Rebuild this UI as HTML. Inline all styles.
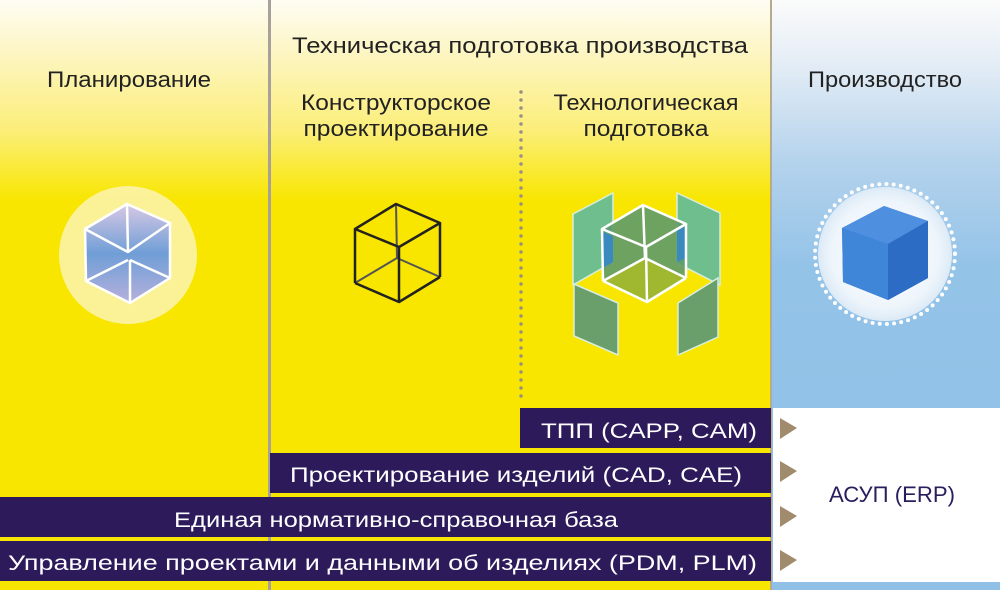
<!DOCTYPE html>
<html><head><meta charset="utf-8"><style>
html,body{margin:0;padding:0;background:#fff}
svg{display:block}
text{font-family:"Liberation Sans",sans-serif}
</style></head><body>
<svg width="1000" height="590" viewBox="0 0 1000 590" xmlns="http://www.w3.org/2000/svg">
<defs>
<linearGradient id="yel" x1="0" y1="0" x2="0" y2="1">
<stop offset="0" stop-color="#fefdf4"/>
<stop offset="0.08" stop-color="#fdf6c8"/>
<stop offset="0.22" stop-color="#fbee7a"/>
<stop offset="0.34" stop-color="#f8e600"/>
<stop offset="1" stop-color="#f8e600"/>
</linearGradient>
<linearGradient id="blu" x1="0" y1="0" x2="0" y2="1">
<stop offset="0" stop-color="#fbfbfb"/>
<stop offset="0.1" stop-color="#e6eef6"/>
<stop offset="0.28" stop-color="#b3d2ec"/>
<stop offset="0.45" stop-color="#94c3e8"/>
<stop offset="1" stop-color="#90c0e6"/>
</linearGradient>
<radialGradient id="halo" cx="0.5" cy="0.5" r="0.5">
<stop offset="0" stop-color="#ffffff"/>
<stop offset="0.8" stop-color="#eef5fb"/>
<stop offset="1" stop-color="#dceaf6"/>
</radialGradient>
<linearGradient id="cubeL" x1="0" y1="0" x2="0" y2="1">
<stop offset="0" stop-color="#d8c8e4"/>
<stop offset="0.5" stop-color="#6f9ed6"/>
<stop offset="1" stop-color="#b6b0dc"/>
</linearGradient>
<linearGradient id="cubeB" x1="0" y1="0" x2="1" y2="1">
<stop offset="0" stop-color="#5b9ae0"/>
<stop offset="1" stop-color="#1f5fb6"/>
</linearGradient>
</defs>
<rect x="0" y="0" width="772" height="590" fill="url(#yel)"/>
<rect x="772" y="0" width="228" height="590" fill="url(#blu)"/>
<rect x="268" y="0" width="3" height="590" fill="#a8a09a"/>
<rect x="770" y="0" width="2" height="590" fill="#b7ab8e"/>

<!-- headers -->
<text x="520" y="53" font-size="22" text-anchor="middle" fill="#222" textLength="456" lengthAdjust="spacingAndGlyphs">Техническая  подготовка  производства</text>
<text x="129" y="87" font-size="22" text-anchor="middle" fill="#222" textLength="164" lengthAdjust="spacingAndGlyphs">Планирование</text>
<text x="885" y="87" font-size="22" text-anchor="middle" fill="#222" textLength="154" lengthAdjust="spacingAndGlyphs">Производство</text>
<text x="396" y="110" font-size="22" text-anchor="middle" fill="#222" textLength="190" lengthAdjust="spacingAndGlyphs">Конструкторское</text>
<text x="396" y="136" font-size="22" text-anchor="middle" fill="#222" textLength="185" lengthAdjust="spacingAndGlyphs">проектирование</text>
<text x="646" y="110" font-size="22" text-anchor="middle" fill="#222" textLength="185" lengthAdjust="spacingAndGlyphs">Технологическая</text>
<text x="646" y="136" font-size="22" text-anchor="middle" fill="#222" textLength="125" lengthAdjust="spacingAndGlyphs">подготовка</text>
<line x1="521" y1="92" x2="521" y2="398" stroke="#9a8f86" stroke-width="3.5" stroke-linecap="round" stroke-dasharray="0 8"/>

<!-- left cube -->
<circle cx="128" cy="255" r="69" fill="#fbf3a8" opacity="0.9"/>
<g stroke="#fff" stroke-width="2.5" stroke-linejoin="round">
<polygon points="127,204 170,223 170,278 130,303 86,281 85,229" fill="url(#cubeL)"/>
<polyline points="85,229 128,252 170,223" fill="none"/>
<line x1="127" y1="204" x2="128" y2="252"/>
<line x1="128" y1="260" x2="86" y2="281"/>
<line x1="130" y1="260" x2="170" y2="278"/>
<line x1="130" y1="260" x2="130" y2="303"/>
</g>

<!-- wire cube -->
<g fill="none" stroke-linejoin="round">
<g stroke="#555" stroke-width="2">
<line x1="396" y1="204" x2="397" y2="258"/>
<line x1="397" y1="258" x2="355" y2="283"/>
<line x1="397" y1="258" x2="440" y2="277"/>
</g>
<g stroke="#222" stroke-width="2.5">
<polygon points="355,229 396,204 440,223 399,247"/>
<line x1="355" y1="229" x2="355" y2="283"/>
<line x1="399" y1="247" x2="399" y2="302"/>
<line x1="440" y1="223" x2="440" y2="277"/>
<polyline points="355,283 399,302 440,277"/>
</g>
</g>

<!-- tech cube -->
<g stroke="#d8eee0" stroke-width="1.5">
<polygon points="573,214 613,193 613,262 573,285" fill="#6fbf8e"/>
<polygon points="677,193 720,213 720,285 677,263" fill="#6fbf8e"/>
<polygon points="574,284 618,303 618,355 574,336" fill="#6a9e6a"/>
<polygon points="678,303 718,278 718,337 678,355" fill="#6a9e6a"/>
</g>
<polygon points="601,229 643,205 686,224 686,278 647,302 603,281" fill="#5e9a6a" opacity="0.9"/>
<polygon points="603,281 646,258 686,278 647,302" fill="#a0b830"/>
<polygon points="603,232 613,236 613,262 603,268" fill="#3a8abf"/>
<polygon points="677,230 686,226 686,258 677,262" fill="#3a8abf"/>
<g fill="none" stroke="#fff" stroke-width="2.5" stroke-linejoin="round">
<polygon points="602,229 643,205 686,224 646,247"/>
<line x1="602" y1="229" x2="603" y2="281"/>
<line x1="646" y1="247" x2="647" y2="302"/>
<line x1="686" y1="224" x2="686" y2="278"/>
<polyline points="603,281 647,302 686,278"/>
<line x1="643" y1="205" x2="645" y2="258"/>
<line x1="645" y1="258" x2="603" y2="281"/>
<line x1="645" y1="258" x2="686" y2="278"/>
</g>

<!-- blue cube -->
<circle cx="885" cy="254" r="67" fill="url(#halo)"/>
<circle cx="885" cy="254" r="70" fill="none" stroke="#fff" stroke-width="4" stroke-linecap="round" stroke-dasharray="0 7.2"/>
<polygon points="842,228 884,206 928,221 928,278 888,300 843,282" fill="url(#cubeB)"/>
<polygon points="842,228 884,206 928,221 888,244" fill="#4f8fe0"/>
<polygon points="888,244 928,221 928,278 888,300" fill="#2d6cc4"/>
<polygon points="842,228 888,244 888,300 843,282" fill="#3f86d8"/>

<!-- bars -->
<rect x="520" y="408" width="251" height="40" fill="#2d1a5b"/>
<rect x="270" y="453" width="501" height="40" fill="#2d1a5b"/>
<rect x="0" y="497" width="771" height="40" fill="#2d1a5b"/>
<rect x="0" y="541" width="771" height="40" fill="#2d1a5b"/>
<g fill="#fff" font-size="21">
<text x="541" y="438" textLength="216" lengthAdjust="spacingAndGlyphs">ТПП   (CAPP,  CAM)</text>
<text x="290" y="482" textLength="452" lengthAdjust="spacingAndGlyphs">Проектирование  изделий   (CAD,  CAE)</text>
<text x="174" y="527" textLength="444" lengthAdjust="spacingAndGlyphs">Единая  нормативно-справочная  база</text>
<text x="8" y="570" textLength="749" lengthAdjust="spacingAndGlyphs">Управление  проектами  и  данными  об  изделиях   (PDM,  PLM)</text>
</g>
<rect x="773" y="408" width="227" height="174" fill="#fff"/>
<text x="829" y="502" font-size="22" fill="#2a1d5e" textLength="126" lengthAdjust="spacingAndGlyphs">АСУП  (ERP)</text>
<g fill="#a08c6c">
<polygon points="780,418 797,428 780,439"/>
<polygon points="780,461 797,471 780,482"/>
<polygon points="780,506 797,516 780,527"/>
<polygon points="780,550 797,560 780,571"/>
</g>
</svg>
</body></html>
